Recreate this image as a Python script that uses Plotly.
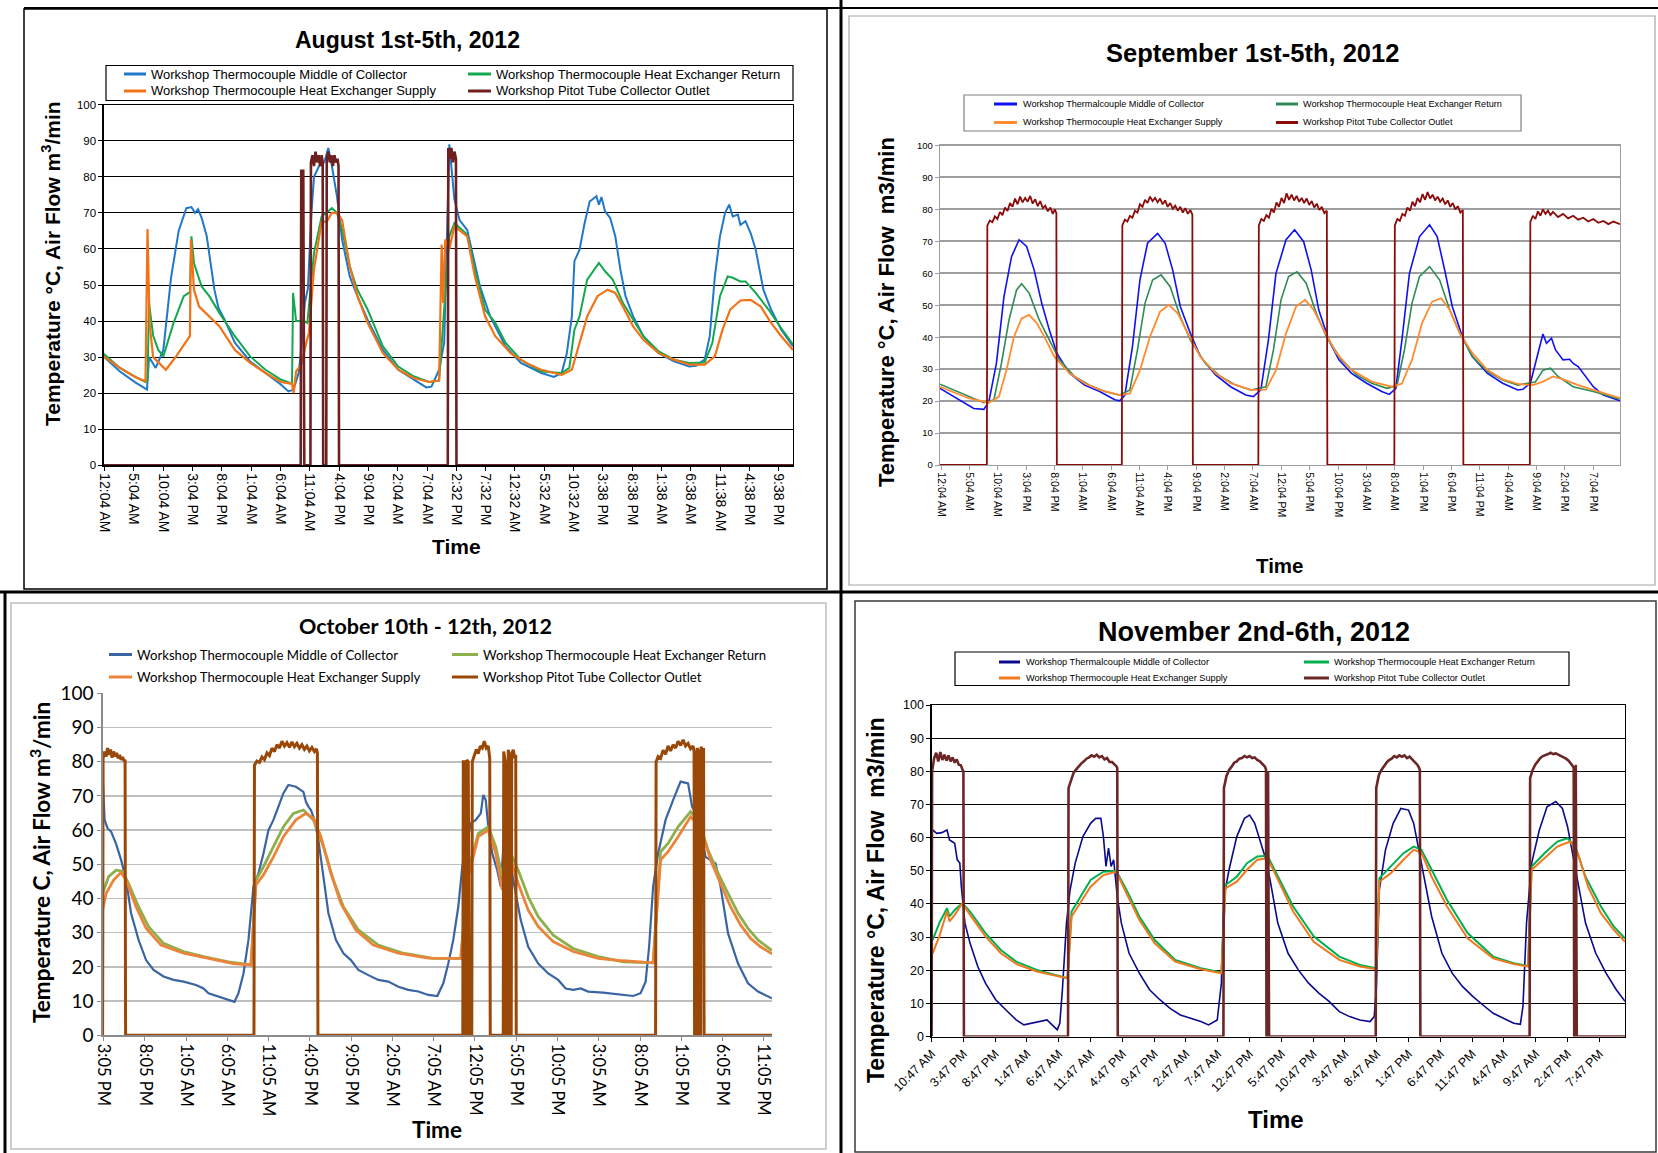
import plotly.graph_objects as go

W, H = 1658, 1153

# ---------------- DATA (x = logger sample position along each chart's category axis) -------------
# ---- August 1st-5th, 2012
aug_ticks = ["12:04 AM", "5:04 AM", "10:04 AM", "3:04 PM", "8:04 PM", "1:04 AM", "6:04 AM", "11:04 AM",
             "4:04 PM", "9:04 PM", "2:04 AM", "7:04 AM", "2:32 PM", "7:32 PM", "12:32 AM", "5:32 AM",
             "10:32 AM", "3:38 PM", "8:38 PM", "1:38 AM", "6:38 AM", "11:38 AM", "4:38 PM", "9:38 PM"]
aug_middle = [(143,30.2),(175,26),(205,23),(225,21.2),(228,21),(232,30),(245,27),(260,32),(275,52),(290,65),(305,71.3),(315,71.6),(322,70),(328,71),(335,68.6),(345,63.5),(360,48.7),(368,43.6),(380,40.4),(400,34),(430,28.8),(460,25.6),(490,22.4),(505,20.5),(515,21),(525,25.6),(530,32),(537,45),(543,49),(550,70),(555,80),(565,83),(575,84),(583,88),(590,83),(600,74.6),(610,62.6),(625,52.4),(640,46.9),(660,40.4),(690,32),(720,26.5),(750,23.8),(775,21.6),(785,21.8),(800,26.5),(810,34),(815,60),(820,89),(830,73.7),(840,68),(855,65.3),(865,58.9),(880,49.6),(900,41.3),(930,33),(960,28.4),(1000,25.6),(1025,24.5),(1040,25.6),(1050,31),(1060,41.3),(1065,56.6),(1075,59.8),(1085,67.2),(1095,73.2),(1100,73.7),(1108,74.6),(1113,72.3),(1118,74.4),(1125,70.4),(1135,68.6),(1145,63.5),(1155,54.3),(1165,46.9),(1180,41.3),(1200,35.8),(1230,31.1),(1260,28.8),(1290,27.4),(1303,27.6),(1320,29.3),(1330,35.8),(1340,52.4),(1350,63.5),(1360,70),(1368,72.3),(1375,69),(1385,69.5),(1390,66.7),(1400,67.7),(1410,64.4),(1420,59.8),(1435,48.7),(1450,43.2),(1470,37.6),(1493,33)]
aug_return = [(143,30.9),(175,27),(205,24.5),(225,23.1),(229,23.5),(232,45),(240,36),(250,32),(260,30.2),(280,39.5),(300,46.9),(312,48),(315,63.5),(320,56),(335,49.6),(350,46.9),(370,42.2),(400,35.8),(430,30.2),(460,26.5),(490,23.8),(512,22.6),(514,47.8),(520,40),(535,40),(542,39.5),(555,58.9),(570,69),(590,71.3),(600,70),(610,65.3),(625,55.2),(640,48.7),(660,43.2),(690,33),(720,27.4),(750,24.7),(780,23.1),(800,23.5),(810,43.2),(820,63.5),(830,67.2),(855,64),(870,54.3),(890,43.2),(910,39.5),(930,34),(960,29.3),(1000,26),(1040,25.6),(1055,27),(1065,37.6),(1075,41.3),(1090,51.5),(1105,54.7),(1113,56.1),(1125,53.8),(1140,51.5),(1160,45),(1180,40.4),(1200,35.8),(1230,31.6),(1260,29.3),(1290,28.4),(1320,28.5),(1335,33.9),(1350,46.9),(1365,52.4),(1375,52),(1390,51),(1400,51),(1420,47.8),(1445,43.2),(1470,38),(1493,33.5)]
aug_supply = [(143,30.2),(175,27),(205,24.5),(225,23.3),(229,65.5),(233,39.5),(240,30),(265,26.5),(285,30.2),(312,35.8),(314,62.6),(320,48.7),(330,44),(350,41.3),(370,38.5),(400,32),(430,28.4),(460,25.6),(490,23.1),(512,22.6),(515,20),(520,26),(530,27.9),(540,34),(545,36.7),(555,54.3),(570,67.6),(580,67.6),(590,70),(600,70),(610,68),(625,55.2),(640,47),(660,39.5),(690,31.1),(720,26.5),(750,24.2),(780,23.1),(800,23.5),(805,61.2),(808,45),(812,62.6),(820,60),(830,66.3),(855,63.5),(870,52.4),(890,41.3),(910,35.8),(940,31.1),(970,28.4),(1000,26.5),(1040,25.1),(1060,26.5),(1075,33.9),(1090,41.3),(1110,46.9),(1130,48.7),(1145,47.8),(1160,44),(1180,38.5),(1200,34.8),(1230,31.1),(1260,29.3),(1290,27.9),(1320,27.9),(1340,30.2),(1355,37.6),(1370,43.2),(1390,45.7),(1410,45.9),(1430,44),(1450,39.5),(1470,35.8),(1493,32)]
aug_pitot = [(143,0),(529,0),(530,82),(532,79),(534,82),(536,0),(548,0),(549,84),(552,86),(555,83),(558,87),(561,84),(564,86),(567,83),(570,86),(572,84),(573,0),(579,0),(580,85),(583,87),(586,84),(589,86),(592,83),(595,86),(598,84),(601,85),(603,83),(604,0),(817,0),(818,88),(821,85),(824,88),(827,84),(830,87),(833,85),(834,0),(1493,0)]

# ---- September 1st-5th, 2012
sep_ticks = ["12:04 AM", "5:04 AM", "10:04 AM", "3:04 PM", "8:04 PM", "1:04 AM", "6:04 AM", "11:04 AM",
             "4:04 PM", "9:04 PM", "2:04 AM", "7:04 AM", "12:04 PM", "5:04 PM", "10:04 PM", "3:04 AM",
             "8:04 AM", "1:04 PM", "6:04 PM", "11:04 PM", "4:04 AM", "9:04 AM", "2:04 PM", "7:04 PM"]
sep_middle = [(143,24),(180,20.4),(210,17.7),(230,17.4),(240,19.8),(255,31.8),(270,52.7),(285,65.2),(300,70.5),(315,68.4),(330,61),(345,50.6),(360,42.3),(375,35),(400,28.7),(430,25),(460,23),(490,20.4),(500,20.1),(510,21.9),(525,37),(540,58),(555,69.4),(575,72.5),(590,69.4),(605,61),(620,49.6),(640,41.2),(660,33.9),(690,28.2),(720,24.5),(750,21.9),(765,21.4),(780,23.5),(795,39.1),(810,60),(830,70.5),(847,73.6),(865,69.9),(880,61),(895,48.5),(915,39.1),(935,32.9),(960,28.7),(990,25.6),(1020,23),(1035,22.1),(1048,24),(1060,39.1),(1075,60),(1095,71.5),(1115,75.2),(1130,71.5),(1145,61),(1160,49.6),(1180,40.2),(1200,33.9),(1230,28.7),(1260,25.6),(1290,23.5),(1300,23.7),(1315,25.6),(1325,31.8),(1335,38.1),(1340,41),(1347,38.1),(1357,39.7),(1365,36),(1380,32.9),(1393,33.1),(1400,31.8),(1410,30.8),(1425,27.7),(1440,24.5),(1460,21.9),(1493,20.1)]
sep_return = [(143,25.3),(200,21.4),(230,19.5),(250,20.4),(265,31.8),(280,45.4),(295,54.8),(305,56.7),(320,53.8),(340,45.4),(360,39.1),(380,32.9),(410,27.7),(440,25),(470,23),(500,21.9),(520,23.5),(535,36),(550,50.6),(565,57.9),(582,59.5),(600,55.8),(620,46.4),(640,39.1),(670,31.8),(700,27.7),(730,25),(760,23.5),(790,24.5),(805,36),(820,51.7),(835,59),(852,60.5),(870,56.9),(890,47.5),(910,40.2),(940,32.9),(970,28.2),(1000,25.6),(1030,24),(1050,24.8),(1065,36),(1080,50.6),(1095,59),(1115,62.1),(1135,57.9),(1155,48.5),(1175,41.2),(1200,33.9),(1230,29.2),(1260,26.6),(1290,25),(1310,25.6),(1325,26),(1340,29.7),(1355,30.3),(1370,27.7),(1400,24.5),(1440,23),(1493,20.6)]
sep_supply = [(143,24.5),(200,20.9),(240,19.5),(260,21.4),(275,29.7),(290,40.2),(305,45.9),(320,47),(335,44.4),(350,40.2),(370,33.9),(400,28.7),(430,25.6),(460,23.5),(500,21.9),(520,22.4),(540,29.7),(560,40.2),(580,48),(597,50.1),(615,47.5),(635,41.2),(660,33.9),(690,28.7),(720,25.6),(760,23.5),(790,23.6),(810,29.7),(830,41.2),(850,49.6),(868,51.7),(885,48.5),(905,42.3),(930,35),(960,29.7),(1000,26.1),(1040,24.5),(1060,25.5),(1080,32.9),(1100,44.4),(1120,51.1),(1138,52.2),(1155,48.5),(1175,41.2),(1200,35),(1230,29.7),(1260,26.8),(1290,25.4),(1320,25),(1340,26.1),(1360,27.7),(1380,26.8),(1410,25),(1450,23),(1493,20.9)]
sep_pitot = [(143,0),(236,0),(237,75),(242,76.5),(247,76),(252,77.8),(257,77),(262,79.2),(267,78.2),(272,80.6),(277,79.5),(282,82),(287,80.8),(292,83.4),(297,81.6),(302,84),(307,82.2),(312,83.6),(317,82.4),(322,84.2),(327,81.8),(332,83.2),(337,81),(342,82.6),(347,80.4),(352,81.2),(357,79.4),(362,80.6),(367,78.6),(371,80),(374,78.8),(375,0),
             (504,0),(505,75),(510,76.8),(515,76.2),(520,78),(525,77.4),(530,79.6),(535,79),(540,81.6),(545,80.8),(550,83),(555,82),(560,84),(565,82.6),(570,83.6),(575,82.2),(580,83.4),(585,81.6),(590,82.8),(595,80.8),(600,82),(605,80.2),(610,81.2),(615,79.6),(620,80.8),(625,79),(630,80.4),(635,78.6),(640,79.8),(644,78.4),(645,0),
             (775,0),(776,75),(781,77),(786,76.4),(791,78.2),(796,77.4),(801,80.2),(806,79),(811,82.2),(816,80.8),(821,83.6),(826,82),(831,85),(836,83),(841,84.6),(846,82.8),(851,84.2),(856,82.4),(861,83.6),(866,82),(871,83.4),(876,81.4),(881,82.6),(886,80.6),(891,81.8),(896,79.8),(901,80.8),(906,78.8),(911,79.6),(912,0),
             (1045,0),(1046,75),(1051,77),(1056,76.4),(1061,78.6),(1066,78),(1071,80.6),(1076,79.6),(1081,82.4),(1086,81),(1091,83.6),(1096,82.2),(1101,84.8),(1106,83),(1111,85.4),(1116,83.4),(1121,84.6),(1126,82.8),(1131,84),(1136,82.4),(1141,83.4),(1146,81.6),(1151,82.8),(1156,80.8),(1161,82),(1166,80),(1171,81),(1176,79),(1181,79.8),(1182,0),
             (1314,0),(1315,76),(1320,78),(1325,77),(1330,79.4),(1335,78),(1340,80),(1345,78.6),(1350,79.6),(1355,78.2),(1360,79.2),(1370,77.6),(1380,78.6),(1390,77.2),(1400,78),(1410,76.8),(1420,77.4),(1430,76.2),(1440,77),(1450,75.8),(1460,76.4),(1470,75.4),(1480,76.2),(1493,75.4)]

# ---- October 10th - 12th, 2012
oct_ticks = ["3:05 PM", "8:05 PM", "1:05 AM", "6:05 AM", "11:05 AM", "4:05 PM", "9:05 PM", "2:05 AM", "7:05 AM",
             "12:05 PM", "5:05 PM", "10:05 PM", "3:05 AM", "8:05 AM", "1:05 PM", "6:05 PM", "11:05 PM"]
oct_middle = [(168,76.6),(172,63),(178,60.5),(185,59.6),(195,56),(205,51.3),(215,45.4),(225,35.7),(240,27.9),(255,22),(270,19.1),(290,17.2),(310,16.2),(330,15.7),(355,14.7),(370,13.7),(380,12.3),(400,11.3),(420,10.3),(432,9.8),(440,12.3),(450,18.1),(460,27.9),(470,43.5),(480,47.4),(490,53.2),(500,60),(510,63),(520,66.9),(530,70.8),(540,73.2),(555,72.7),(570,71.2),(575,68.3),(580,66.9),(585,65.9),(592,63),(600,57.1),(610,46.4),(620,35.7),(635,27.9),(650,24),(665,22),(680,19.1),(700,17.6),(720,16.2),(740,15.7),(760,14.2),(780,13.3),(800,12.8),(820,11.8),(838,11.5),(850,15.2),(860,21),(870,27.9),(880,37.6),(888,49.3),(895,54.2),(905,62),(915,63),(925,64.9),(930,70.3),(935,68.8),(940,61),(948,53.2),(958,48.3),(965,43.5),(972,59),(980,55.2),(990,45.4),(1005,33.7),(1020,25.9),(1040,21),(1060,18.1),(1080,16.2),(1095,13.7),(1110,13.3),(1125,13.7),(1140,12.8),(1170,12.5),(1200,12.1),(1230,11.5),(1245,12.3),(1255,15.7),(1262,25.9),(1270,43.5),(1280,53.2),(1295,63),(1310,68.8),(1325,74.2),(1340,73.7),(1348,66.9),(1355,64.9),(1365,60),(1375,52.2),(1385,51.3),(1395,50.3),(1405,43.5),(1420,29.8),(1440,21),(1460,15.2),(1480,12.8),(1508,10.8)]
oct_return = [(168,41.5),(180,46.4),(195,48.3),(208,48),(220,44.4),(240,37.6),(260,31.8),(290,26.9),(330,24.5),(370,23),(420,21.5),(465,20.6),(475,45.4),(490,49.3),(510,55.2),(530,61),(550,64.9),(570,65.9),(590,63),(610,55.2),(630,45.4),(650,37.6),(680,30.8),(720,26.4),(770,24),(830,22.5),(885,22.5),(900,48.3),(920,59),(940,61),(955,55.2),(968,46.4),(985,53.2),(1000,48.3),(1020,40.5),(1040,34.7),(1070,29.3),(1110,25.4),(1160,23),(1210,21.5),(1270,21.2),(1285,53.7),(1300,56.1),(1320,61),(1345,65.4),(1360,63),(1380,54.2),(1400,47.4),(1420,41.5),(1440,35.7),(1460,31.3),(1480,27.9),(1508,24.8)]
oct_supply = [(168,36.6),(175,41.5),(190,45.4),(205,47.6),(215,45.4),(235,37.6),(255,31.3),(285,26.4),(330,24),(380,22.5),(430,21),(465,20.6),(475,44),(490,46.9),(510,52.2),(530,58.1),(555,63),(575,64.9),(590,63.5),(605,58.1),(625,47.4),(645,38.6),(675,30.8),(710,26.4),(760,24),(820,22.6),(885,22.5),(900,46.4),(920,58.1),(940,60),(955,53.2),(968,42.5),(985,51.3),(1000,44.4),(1020,36.6),(1040,31.8),(1070,27.4),(1110,24.5),(1160,22.5),(1210,21.8),(1270,21.2),(1285,51.3),(1300,53.7),(1320,58.1),(1345,63.9),(1365,61),(1385,51.3),(1405,44.4),(1425,37.6),(1445,32.3),(1465,28.4),(1485,25.9),(1508,23.8)]
oct_pitot = [(168,0),(169,81),(172,83),(175,81.5),(178,84),(181,82),(184,83.6),(187,81.2),(190,83),(193,81.6),(196,82.6),(199,81),(202,82),(205,80.6),(208,81.4),(211,80.2),(213,80.6),(214,0),
             (471,0),(472,79),(477,80.2),(482,79.8),(487,81.4),(492,80.6),(497,82.6),(502,81.8),(507,84),(512,83),(517,85),(522,84),(527,86),(532,84.6),(537,85.6),(542,84.2),(547,85.8),(552,84.4),(557,85.4),(562,84),(567,85),(572,83.6),(577,84.6),(582,83.2),(587,84.2),(592,83),(596,83.8),(598,82.6),(599,0),
             (889,0),(890,80),(892,80),(893,0),(896,0),(897,80.5),(900,80),(902,0),(907,0),(908,80),(912,82),(916,83.6),(920,82.4),(924,84.6),(928,84),(932,86),(936,84),(940,84.6),(943,81),(944,0),
             (970,0),(971,83),(974,80),(976,0),(979,0),(980,83.5),(983,81),(984,0),(986,0),(987,82.5),(990,83.5),(993,81),(995,82),(996,0),
             (1275,0),(1276,80),(1280,81.5),(1285,81),(1290,83.4),(1295,82.2),(1300,84.6),(1305,83.2),(1310,85),(1315,84),(1320,86),(1325,84.8),(1330,86.4),(1335,84.6),(1340,85.4),(1345,83.8),(1350,84.6),(1352,83),(1353,0),(1357,0),(1358,84),(1361,83),(1362,0),(1365,0),(1366,84.4),(1369,83),(1371,84),(1372,0),(1508,0)]

# ---- November 2nd-6th, 2012
nov_ticks = ["10:47 AM", "3:47 PM", "8:47 PM", "1:47 AM", "6:47 AM", "11:47 AM", "4:47 PM", "9:47 PM", "2:47 AM",
             "7:47 AM", "12:47 PM", "5:47 PM", "10:47 PM", "3:47 AM", "8:47 AM", "1:47 PM", "6:47 PM", "11:47 PM",
             "4:47 AM", "9:47 AM", "2:47 PM", "7:47 PM"]
nov_middle = [(157,62.3),(165,61.3),(175,61.5),(185,62.3),(190,59.3),(200,58.3),(205,53.3),(210,52.3),(213,45.2),(220,34.2),(230,28.1),(245,21.1),(260,16.1),(280,11.1),(300,8),(320,5),(335,3.5),(350,4),(370,4.5),(380,5),(390,3.5),(400,2),(405,4),(410,14),(418,34.2),(425,44.2),(435,52.3),(450,60.3),(465,64.3),(475,65.8),(485,65.8),(490,60.3),(495,51.3),(500,56.8),(505,51.3),(510,53.3),(517,42.2),(525,34.2),(540,25.1),(560,19.1),(580,14.1),(600,11.1),(620,8.5),(640,6.5),(660,5.5),(680,4.5),(695,3.5),(712,5),(720,16.1),(725,42.2),(735,50.3),(750,60.3),(765,65.8),(775,66.8),(785,64.3),(795,59.3),(805,54.3),(815,47.2),(830,34.2),(850,25.1),(870,20.1),(890,16.1),(910,13.1),(930,10.6),(950,7.5),(970,6),(990,5),(1010,4.5),(1018,6),(1022,14.1),(1028,44.2),(1040,56.3),(1055,64.3),(1070,68.8),(1085,68.3),(1095,64.3),(1105,56.3),(1115,48.2),(1130,36.2),(1150,25.1),(1170,19.1),(1190,15.1),(1210,12.1),(1230,9.5),(1250,7),(1270,5.5),(1290,4),(1303,3.7),(1308,9),(1315,34.2),(1325,52.3),(1340,62.3),(1355,69.3),(1372,70.9),(1385,68.8),(1395,63.3),(1405,55.3),(1415,46.2),(1430,34.2),(1450,25.1),(1470,19.1),(1490,14.1),(1507,10.6)]
nov_return = [(157,29.1),(170,34.2),(185,38.7),(190,36.2),(200,38.2),(215,40.2),(230,37.7),(260,31.2),(290,26.1),(320,22.6),(360,20.1),(420,17.6),(428,37.7),(445,42.2),(465,47.2),(490,49.7),(515,50),(535,44.2),(560,36.2),(590,29.1),(630,23.1),(680,20.6),(720,19.3),(728,45.7),(750,48.2),(770,52.3),(790,54.3),(810,54.5),(830,48.2),(860,39.2),(900,30.2),(950,24.1),(990,21.6),(1022,20.6),(1028,47.7),(1050,51.3),(1075,55.3),(1095,57.3),(1110,56.3),(1130,50.3),(1160,41.2),(1200,31.2),(1250,24.1),(1290,22.1),(1318,21.3),(1325,51.3),(1350,55.3),(1375,58.8),(1395,59.8),(1410,57.3),(1430,48.2),(1460,39.2),(1485,33.2),(1507,29.6)]
nov_supply = [(157,25.1),(170,30.2),(185,37.7),(190,34.7),(200,36.7),(215,40.2),(230,36.7),(260,30.2),(290,25.1),(320,21.9),(360,19.6),(420,17.6),(428,36.2),(445,40.2),(465,45.2),(490,48.7),(515,49.7),(535,43.2),(560,35.2),(590,28.1),(630,22.6),(680,20.3),(720,19.1),(728,44.7),(750,46.7),(770,50.3),(790,53.3),(810,53.8),(830,47.2),(860,37.7),(900,28.6),(950,23.1),(990,21.1),(1022,20.3),(1028,46.7),(1050,49.2),(1075,53.3),(1095,56.3),(1110,55.5),(1130,48.2),(1160,39.2),(1200,29.6),(1250,23.6),(1290,21.9),(1318,21.1),(1325,50.3),(1350,53.8),(1375,57.3),(1400,58.8),(1415,55.3),(1435,45.2),(1460,37.2),(1485,32.2),(1507,28.6)]
nov_pitot = [(155,0),(156,80),(160,84),(164,85.6),(168,83),(172,85.8),(176,83.4),(180,85),(184,83.2),(188,84.8),(192,83),(196,84.2),(200,82.6),(204,83.6),(208,82),(212,81.8),(215,80.6),(217,80),(218,0),
             (421,0),(422,75),(427,77.4),(432,79.6),(437,80.6),(442,81.6),(447,82.4),(452,83),(457,83.8),(462,84.2),(467,84.8),(472,84.4),(477,85),(482,84.2),(487,84.6),(492,83.6),(497,84),(502,82.8),(507,82.8),(512,82),(515,81.6),(517,81),(518,0),
             (724,0),(725,75),(730,78.6),(735,80.4),(740,81.4),(745,82.6),(750,83),(755,83.8),(760,84),(765,84.6),(770,84.2),(775,84.6),(780,84),(785,84.2),(790,83.4),(795,83),(800,82.2),(805,81.4),(807,80.6),(808,0),(810,0),(811,80),(813,0),
             (1021,0),(1022,75),(1027,78.8),(1032,80.4),(1037,81.6),(1042,82.6),(1047,83.4),(1052,83.8),(1057,84.6),(1062,84.2),(1067,84.8),(1072,84.4),(1077,84.8),(1082,84),(1087,84.4),(1092,83.6),(1097,83),(1102,82),(1105,81.2),(1107,80.4),(1108,0),
             (1321,0),(1322,78),(1327,80.4),(1332,82),(1337,83.2),(1342,84),(1347,84.6),(1352,84.8),(1357,85.2),(1362,85.6),(1367,85.2),(1372,85.4),(1377,85),(1382,84.8),(1387,84.4),(1392,83.8),(1397,83.2),(1402,82.4),(1405,81.6),(1407,81),(1408,0),(1410,0),(1411,82),(1413,0),(1507,0)]

names_a = ["Workshop Thermocouple Middle of Collector", "Workshop Thermocouple Heat Exchanger Return",
           "Workshop Thermocouple Heat Exchanger Supply", "Workshop Pitot Tube Collector Outlet"]
names_b = ["Workshop Thermalcouple Middle of Collector", "Workshop Thermocouple Heat Exchanger Return",
           "Workshop Thermocouple Heat Exchanger Supply", "Workshop Pitot Tube Collector Outlet"]

# ---------------- LAYOUT HELPERS ----------------
def fx(p): return p / W
def fy(p): return 1 - p / H

ARIAL = "Liberation Sans, Arial, sans-serif"
CALI = "Lato, Carlito, Calibri, sans-serif"

panels = [
    dict(title="August 1st-5th, 2012", series=[aug_middle, aug_return, aug_supply, aug_pitot], names=names_a,
         colors=["#1F78C8", "#12A84E", "#F47216", "#6E1F1F"], widths=[2, 2, 2.2, 2.6],
         ticks=aug_ticks, t0=145, dt=57.4, xr=[143, 1493], box=(103.6, 104.7, 793, 465.3),
         font=ARIAL, ytf=11.5, xtf=14, xangle=90, grid="#000000", gridw=1, line="#000000", mirror=True,
         ytitle="Temperature °C, Air Flow m<sup>3</sup>/min", ytpos=(51, 264), ytsize=21,
         timepos=(457, 546), timesize=21, titlepos=(407, 40), titlesize=23,
         leg=dict(rows=(74, 91), cols=((124, 146, 149), (468, 491, 494)), size=13, box=(106, 65.5, 793, 100.5), boxc="#000000")),
    dict(title="September 1st-5th, 2012", series=[sep_middle, sep_return, sep_supply, sep_pitot], names=names_b,
         colors=["#1010F5", "#2E8B57", "#FF8C30", "#8B0A0A"], widths=[1.6, 1.6, 1.8, 1.8],
         ticks=sep_ticks, t0=145, dt=56.3, xr=[143, 1493], box=(940, 145.5, 1620, 465),
         font=ARIAL, ytf=9.5, xtf=10.5, xangle=90, grid="#9E9E9E", gridw=2, line="#9E9E9E", mirror=True,
         ytitle="Temperature °C, Air Flow  m3/min", ytpos=(886, 312), ytsize=22,
         timepos=(1279, 565), timesize=20.5, titlepos=(1252, 53), titlesize=25.5,
         leg=dict(rows=(104, 122.5), cols=((994, 1017, 1021), (1276, 1298, 1301)), size=9.1, box=(964, 95, 1521, 131), boxc="#808080")),
    dict(title="October 10th - 12th, 2012", series=[oct_middle, oct_return, oct_supply, oct_pitot], names=names_a,
         colors=["#3A64A2", "#8DB04C", "#EB843A", "#994808"], widths=[2.2, 2.8, 2.8, 3],
         ticks=oct_ticks, t0=170, dt=82.6, xr=[168, 1508], box=(102.6, 693.4, 772, 1035.3),
         font=CALI, ytf=19, xtf=16.5, xangle=90, grid="#BFBFBF", gridw=1.5, line="#8C8C8C", mirror=False,
         ytitle="Temperature C, Air Flow m<sup>3</sup>/min", ytpos=(40, 863), ytsize=22.5,
         timepos=(437, 1129), timesize=22.5, titlepos=(425, 626), titlesize=21.5,
         leg=dict(rows=(654.5, 677), cols=((109, 132, 135), (452, 478, 481)), size=13.2, box=None, boxc=None)),
    dict(title="November 2nd-6th, 2012", series=[nov_middle, nov_return, nov_supply, nov_pitot], names=names_b,
         colors=["#0A0A8C", "#00B050", "#F0781E", "#6B2626"], widths=[1.6, 2, 2, 2.6],
         ticks=nov_ticks, t0=155, dt=62.0, xr=[155, 1507], box=(931.6, 705, 1625, 1036.5),
         font=ARIAL, ytf=12.5, xtf=12.5, xangle=-45, grid="#000000", gridw=1, line="#000000", mirror=True,
         ytitle="Temperature °C, Air Flow  m3/min", ytpos=(876, 900), ytsize=23,
         timepos=(1276, 1119), timesize=24, titlepos=(1254, 632), titlesize=27,
         leg=dict(rows=(662, 678), cols=((999, 1020, 1024), (1304, 1329, 1332)), size=9.2, box=(955, 652, 1569, 685.5), boxc="#000000")),
]

fig = go.Figure()
shapes = []
annotations = []

for i, p in enumerate(panels):
    k = "" if i == 0 else str(i + 1)
    xa, ya = "x" + k, "y" + k
    for s, nm, c, w in zip(p["series"], p["names"], p["colors"], p["widths"]):
        xs = [a for a, b in s]
        ys = [b for a, b in s]
        fig.add_trace(go.Scatter(x=xs, y=ys, mode="lines", name=nm, showlegend=False,
                                 line=dict(color=c, width=w), xaxis=xa, yaxis=ya, hoverinfo="skip"))
    x0, y0, x1, y1 = p["box"]
    tickvals = [p["t0"] + p["dt"] * j for j in range(len(p["ticks"]))]
    fig.layout["xaxis" + k] = dict(domain=[fx(x0), fx(x1)], anchor=ya, range=p["xr"], tickmode="array",
                                   tickvals=tickvals, ticktext=p["ticks"], tickangle=p["xangle"],
                                   tickfont=dict(family=p["font"], size=p["xtf"], color="#000000"),
                                   showgrid=False, zeroline=False, showline=True, linecolor=p["line"],
                                   linewidth=1.2, mirror=p["mirror"], ticks="outside", ticklen=4,
                                   tickcolor=p["line"], automargin=False)
    fig.layout["yaxis" + k] = dict(domain=[fy(y1), fy(y0)], anchor=xa, range=[0, 100], dtick=10,
                                   tickfont=dict(family=p["font"], size=p["ytf"], color="#000000"),
                                   showgrid=True, gridcolor=p["grid"], gridwidth=p["gridw"], zeroline=False,
                                   showline=True, linecolor=p["line"], linewidth=1.2, mirror=p["mirror"],
                                   ticks="outside", ticklen=4, tickcolor=p["line"], automargin=False)
    annotations.append(dict(text="<b>%s</b>" % p["title"], x=fx(p["titlepos"][0]), y=fy(p["titlepos"][1]),
                            xref="paper", yref="paper", showarrow=False, xanchor="center", yanchor="middle",
                            font=dict(family=p["font"], size=p["titlesize"], color="#000000")))
    annotations.append(dict(text="<b>Time</b>", x=fx(p["timepos"][0]), y=fy(p["timepos"][1]),
                            xref="paper", yref="paper", showarrow=False, xanchor="center", yanchor="middle",
                            font=dict(family=p["font"], size=p["timesize"], color="#000000")))
    annotations.append(dict(text="<b>%s</b>" % p["ytitle"], x=fx(p["ytpos"][0]), y=fy(p["ytpos"][1]),
                            xref="paper", yref="paper", showarrow=False, xanchor="center", yanchor="middle",
                            textangle=-90, font=dict(family=p["font"], size=p["ytsize"], color="#000000")))
    lg = p["leg"]
    if lg["box"] is not None:
        bx0, by0, bx1, by1 = lg["box"]
        shapes.append(dict(type="rect", xref="paper", yref="paper", x0=fx(bx0), x1=fx(bx1), y0=fy(by1), y1=fy(by0),
                           line=dict(color=lg["boxc"], width=1.2), fillcolor="rgba(0,0,0,0)"))
    order = [(0, 0), (0, 1), (1, 0), (1, 1)]
    for (r, cidx), nm, c in zip(order, p["names"], p["colors"]):
        yy = lg["rows"][r]
        lx0, lx1, tx = lg["cols"][cidx]
        shapes.append(dict(type="line", xref="paper", yref="paper", x0=fx(lx0), x1=fx(lx1), y0=fy(yy), y1=fy(yy),
                           line=dict(color=c, width=3)))
        annotations.append(dict(text=nm, x=fx(tx), y=fy(yy), xref="paper", yref="paper", showarrow=False,
                                xanchor="left", yanchor="middle",
                                font=dict(family=p["font"], size=lg["size"], color="#000000")))

def rect(x0, y0, x1, y1, color, w):
    shapes.append(dict(type="rect", xref="paper", yref="paper", x0=fx(x0), x1=fx(x1), y0=fy(y1), y1=fy(y0),
                       line=dict(color=color, width=w), fillcolor="rgba(0,0,0,0)", layer="below"))

def hline(x0, x1, y, color, w):
    shapes.append(dict(type="line", xref="paper", yref="paper", x0=fx(x0), x1=fx(x1), y0=fy(y), y1=fy(y),
                       line=dict(color=color, width=w)))

def vline(x, y0, y1, color, w):
    shapes.append(dict(type="line", xref="paper", yref="paper", x0=fx(x), x1=fx(x), y0=fy(y0), y1=fy(y1),
                       line=dict(color=color, width=w)))

rect(24, 9, 827, 589, "#000000", 1.5)
rect(849, 16, 1655, 585, "#A6A6A6", 1.2)
rect(11, 603, 826, 1149, "#BFBFBF", 1.5)
rect(855, 601, 1656, 1152, "#3A3A3A", 1.5)
hline(0, 1658, 592, "#000000", 3)
hline(24, 1658, 8, "#000000", 2)
vline(841, 0, 1153, "#000000", 3)
vline(5, 592, 1153, "#000000", 3)

fig.update_layout(width=W, height=H, margin=dict(l=0, r=0, t=0, b=0), paper_bgcolor="#FFFFFF",
                  plot_bgcolor="#FFFFFF", showlegend=False, shapes=shapes, annotations=annotations)

# remove the browser's default 8px body margin so the figure sits at the page origin; hide the mode bar
fig.write_html("out.html", config={"displayModeBar": False, "staticPlot": True},
               post_script="document.body.style.margin='0px';document.body.style.overflow='hidden';")
